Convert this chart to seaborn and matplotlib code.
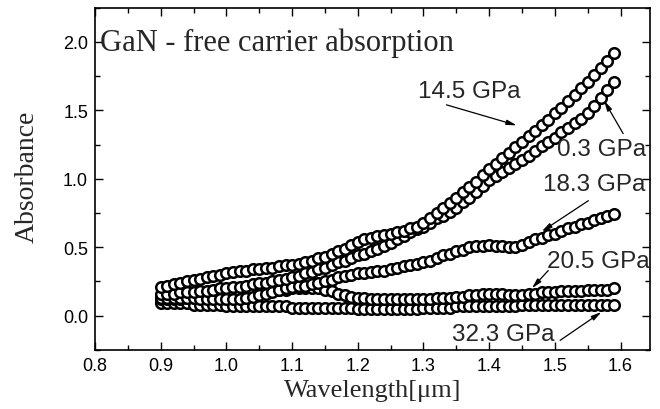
import matplotlib
matplotlib.use('Agg')
import matplotlib.pyplot as plt
from matplotlib.ticker import MultipleLocator
import seaborn as sns

# wavelength grid (um) and absorbance
wavelength = [0.90, 0.91, 0.92, 0.93, 0.94, 0.95, 0.96, 0.97, 0.98, 0.99,
              1.00, 1.01, 1.02, 1.03, 1.04, 1.05, 1.06, 1.07, 1.08, 1.09,
              1.10, 1.11, 1.12, 1.13, 1.14, 1.15, 1.16, 1.17, 1.18, 1.19,
              1.20, 1.21, 1.22, 1.23, 1.24, 1.25, 1.26, 1.27, 1.28, 1.29,
              1.30, 1.31, 1.32, 1.33, 1.34, 1.35, 1.36, 1.37, 1.38, 1.39,
              1.40, 1.41, 1.42, 1.43, 1.44, 1.45, 1.46, 1.47, 1.48, 1.49,
              1.50, 1.51, 1.52, 1.53, 1.54, 1.55, 1.56, 1.57, 1.58, 1.59]

abs_14_5 = [0.21, 0.22, 0.23, 0.24, 0.25, 0.26, 0.27, 0.28, 0.29, 0.30,
            0.31, 0.32, 0.33, 0.33, 0.34, 0.34, 0.35, 0.35, 0.36, 0.37,
            0.37, 0.38, 0.39, 0.40, 0.42, 0.43, 0.45, 0.47, 0.49, 0.52,
            0.54, 0.56, 0.57, 0.58, 0.59, 0.60, 0.61, 0.62, 0.64, 0.65,
            0.68, 0.71, 0.75, 0.79, 0.82, 0.86, 0.90, 0.94, 0.98, 1.03,
            1.07, 1.11, 1.15, 1.19, 1.23, 1.27, 1.31, 1.35, 1.39, 1.43,
            1.48, 1.52, 1.57, 1.61, 1.66, 1.71, 1.76, 1.81, 1.86, 1.92]

abs_0_3 = [0.16, 0.16, 0.16, 0.17, 0.17, 0.17, 0.18, 0.18, 0.19, 0.20,
           0.20, 0.21, 0.21, 0.22, 0.23, 0.24, 0.24, 0.25, 0.26, 0.27,
           0.28, 0.29, 0.31, 0.32, 0.34, 0.35, 0.37, 0.39, 0.40, 0.42,
           0.44, 0.45, 0.47, 0.49, 0.51, 0.53, 0.56, 0.58, 0.61, 0.63,
           0.65, 0.68, 0.71, 0.73, 0.76, 0.79, 0.83, 0.86, 0.90, 0.95,
           0.99, 1.02, 1.05, 1.08, 1.11, 1.14, 1.17, 1.20, 1.24, 1.27,
           1.30, 1.34, 1.37, 1.41, 1.44, 1.48, 1.53, 1.59, 1.65, 1.71]

abs_18_3 = [0.13, 0.13, 0.13, 0.13, 0.13, 0.13, 0.12, 0.12, 0.12, 0.12,
            0.12, 0.12, 0.12, 0.13, 0.14, 0.15, 0.16, 0.17, 0.19, 0.20,
            0.21, 0.22, 0.22, 0.23, 0.24, 0.25, 0.26, 0.28, 0.29, 0.30,
            0.31, 0.31, 0.32, 0.33, 0.33, 0.34, 0.35, 0.36, 0.37, 0.38,
            0.39, 0.40, 0.42, 0.44, 0.45, 0.47, 0.48, 0.50, 0.51, 0.51,
            0.52, 0.51, 0.51, 0.50, 0.50, 0.52, 0.54, 0.56, 0.57, 0.59,
            0.60, 0.62, 0.64, 0.65, 0.67, 0.68, 0.70, 0.71, 0.73, 0.74]

abs_20_5 = [0.12, 0.12, 0.12, 0.12, 0.13, 0.13, 0.13, 0.14, 0.14, 0.14,
            0.15, 0.15, 0.16, 0.16, 0.17, 0.17, 0.18, 0.18, 0.19, 0.19,
            0.20, 0.20, 0.20, 0.20, 0.20, 0.19, 0.18, 0.16, 0.15, 0.14,
            0.13, 0.13, 0.12, 0.12, 0.12, 0.12, 0.12, 0.12, 0.12, 0.12,
            0.12, 0.12, 0.13, 0.13, 0.13, 0.14, 0.14, 0.15, 0.15, 0.16,
            0.16, 0.16, 0.16, 0.15, 0.15, 0.15, 0.16, 0.16, 0.17, 0.17,
            0.17, 0.18, 0.18, 0.18, 0.18, 0.19, 0.19, 0.19, 0.19, 0.20]

abs_32_3 = [0.09, 0.09, 0.09, 0.09, 0.09, 0.08, 0.08, 0.08, 0.08, 0.08,
            0.07, 0.07, 0.07, 0.07, 0.07, 0.07, 0.07, 0.07, 0.07, 0.07,
            0.06, 0.06, 0.06, 0.06, 0.06, 0.06, 0.06, 0.06, 0.06, 0.06,
            0.05, 0.05, 0.05, 0.05, 0.05, 0.05, 0.05, 0.05, 0.05, 0.05,
            0.06, 0.06, 0.06, 0.06, 0.06, 0.07, 0.07, 0.07, 0.07, 0.07,
            0.07, 0.07, 0.07, 0.07, 0.07, 0.08, 0.08, 0.08, 0.08, 0.08,
            0.08, 0.08, 0.08, 0.08, 0.08, 0.08, 0.08, 0.08, 0.08, 0.08]

curves = [abs_32_3, abs_20_5, abs_18_3, abs_0_3, abs_14_5]

# label text, text anchor (left, middle), arrow start, arrow tip
labels = [
    ('14.5 GPa', (1.291, 1.64), (1.335, 1.54), (1.442, 1.39)),
    ('0.3 GPa', (1.503, 1.22), (1.604, 1.33), (1.575, 1.57)),
    ('18.3 GPa', (1.482, 0.96), (1.551, 0.84), (1.480, 0.615)),
    ('20.5 GPa', (1.488, 0.40), (1.490, 0.33), (1.465, 0.20)),
    ('32.3 GPa', (1.343, -0.137), (1.508, -0.18), (1.571, 0.027)),
]

sns.set_style('ticks')
plt.rcParams['font.family'] = ['Liberation Sans', 'DejaVu Sans']
serif = ['Liberation Serif', 'DejaVu Serif']

fig = plt.figure(figsize=(6.6, 4.1), dpi=100)
ax = fig.add_axes([0.144, 0.144, 0.841, 0.835])

for vals in curves:
    sns.scatterplot(x=wavelength, y=vals, ax=ax, s=58, color='white',
                    edgecolor='black', linewidth=1.8, legend=False, zorder=3)

for text, pos, start, tip in labels:
    ax.text(pos[0], pos[1], text, fontsize=17.5, ha='left', va='center')
    ax.annotate('', xy=tip, xytext=start,
                arrowprops=dict(arrowstyle='-|>,head_length=0.6,head_width=0.15',
                                lw=0.9, color='black', shrinkA=0, shrinkB=0))

ax.text(0.807, 2.0, 'GaN - free carrier absorption', family=serif,
        fontsize=22, ha='left', va='center')

ax.set_xlim(0.8, 1.645)
ax.set_ylim(-0.25, 2.25)
ax.xaxis.set_major_locator(MultipleLocator(0.1))
ax.xaxis.set_minor_locator(MultipleLocator(0.05))
ax.yaxis.set_major_locator(MultipleLocator(0.5))
ax.yaxis.set_minor_locator(MultipleLocator(0.25))
ax.tick_params(which='both', direction='in', top=True, right=True,
               width=1, colors='black', labelsize=13, pad=5)
ax.tick_params(which='major', length=6)
ax.tick_params(which='minor', length=3.5)
for sp in ax.spines.values():
    sp.set_linewidth(1.2)
    sp.set_color('black')

ax.set_xlabel('Wavelength[μm]', family=serif, fontsize=19)
ax.set_ylabel('Absorbance', family=serif, fontsize=20)
ax.xaxis.set_label_coords(0.5, -0.085)
ax.yaxis.set_label_coords(-0.1, 0.51)

fig.savefig('out.png', dpi=100)
